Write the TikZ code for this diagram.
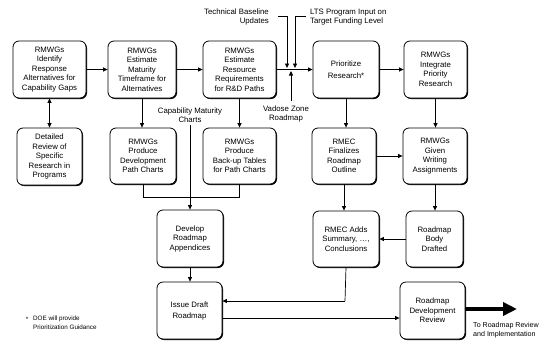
\documentclass[tikz,border=0pt]{standalone}
\usepackage{fontspec}
\setmainfont{Liberation Sans}
\usetikzlibrary{arrows.meta,shadows}
\begin{document}
\begin{tikzpicture}[x=1pt,y=-1pt,
  box/.style={draw,rounded corners=6pt,line width=0.8pt,fill=white,align=center,inner sep=0pt,
    font=\fontsize{7.8}{9.5}\selectfont,
    drop shadow={shadow xshift=1pt,shadow yshift=-1pt,fill=black,opacity=1}},
  lbl/.style={inner sep=0pt,font=\fontsize{7.8}{9.5}\selectfont},
  arr/.style={-{Triangle[length=4.5pt,width=4pt]},line width=0.7pt},
  ln/.style={line width=0.7pt},
  bigarr/.style={line width=4.5pt,-{Triangle[length=14pt,width=13pt]}}]
\useasboundingbox (0,0) rectangle (541,341);
% row 1
\node[box,minimum width=73pt,minimum height=57pt] (b1) at (49.5,69.5) {RMWGs\\Identify\\Response\\Alternatives for\\Capability Gaps};
\node[box,minimum width=68pt,minimum height=57pt] (b2) at (142,69.5) {RMWGs\\Estimate\\Maturity\\Timeframe for\\Alternatives};
\node[box,minimum width=73pt,minimum height=57pt] (b3) at (239.5,69.5) {RMWGs\\Estimate\\Resource\\Requirements\\for R\&D Paths};
\node[box,minimum width=66pt,minimum height=57pt] (b4) at (346,69.5) {Prioritize\\[2.5pt]Research*};
\node[box,minimum width=63pt,minimum height=57pt] (b5) at (435.5,69.5) {RMWGs\\Integrate\\Priority\\Research};
% row 2
\node[box,minimum width=65pt,minimum height=57pt] (b6) at (49.5,156.5) {Detailed\\Review of\\Specific\\Research in\\Programs};
\node[box,minimum width=66pt,minimum height=56pt] (b7) at (143,156) {RMWGs\\Produce\\Development\\Path Charts};
\node[box,minimum width=73pt,minimum height=56pt] (b8) at (239.5,156) {RMWGs\\Produce\\Back-up Tables\\for Path Charts};
\node[box,minimum width=64pt,minimum height=56pt] (b11) at (344,156) {RMEC\\Finalizes\\Roadmap\\Outline};
\node[box,minimum width=64pt,minimum height=56pt] (b13) at (435,156) {RMWGs\\Given\\Writing\\Assignments};
% row 3
\node[box,minimum width=66pt,minimum height=57pt] (b9) at (190,238.5) {Develop\\Roadmap\\Appendices};
\node[box,minimum width=66pt,minimum height=56pt] (b12) at (346,239) {RMEC Adds\\Summary, \ldots,\\Conclusions};
\node[box,minimum width=57pt,minimum height=56pt] (b14) at (434.5,239) {Roadmap\\Body\\Drafted};
% row 4
\node[box,minimum width=65pt,minimum height=57pt] (b10) at (189.5,310.5) {Issue Draft\\[1.5pt]Roadmap};
\node[box,minimum width=65pt,minimum height=57pt] (b15) at (432.5,310.5) {Roadmap\\Development\\Review};
% labels
\node[lbl,anchor=east,align=right] (tb) at (269,17) {Technical Baseline\\Updates};
\node[lbl,anchor=west,align=left] (lts) at (310,17) {LTS Program Input on\\Target Funding Level};
\node[lbl,align=center] (vz) at (286,114) {Vadose Zone\\Roadmap};
\node[lbl,align=center] (cm) at (190,115) {Capability Maturity\\Charts};
\node[inner sep=0pt,font=\fontsize{6.3}{8}\selectfont] (star) at (27,319) {*};
\node[inner sep=0pt,anchor=west,align=left,font=\fontsize{6.3}{8.5}\selectfont] (fn) at (33,322.5) {DOE will provide\\Prioritization Guidance};
\node[inner sep=0pt,anchor=west,align=left,font=\fontsize{7.1}{9}\selectfont] (tr) at (473,330.5) {To Roadmap Review\\and Implementation};
% coordinates
\coordinate (tbs) at (278,16);
\coordinate (tbc) at (287,16);
\coordinate (tbe) at (287,68);
\coordinate (lts1) at (306,16);
\coordinate (lts2) at (295,16);
\coordinate (lts3) at (295,68);
\coordinate (vz1) at (291,101);
\coordinate (vz2) at (291,71);
\coordinate (cm1) at (190,125);
\coordinate (mj) at (190,197);
\coordinate (rj) at (345,301);
\coordinate (tip) at (517,309);
% connectors
\draw[arr] (b1) -- (b2);
\draw[arr] (b2) -- (b3);
\draw[arr] (b3) -- (b4);
\draw[arr] (b4) -- (b5);
\draw[ln,{Triangle[length=4.5pt,width=4pt]}-{Triangle[length=4.5pt,width=4pt]}] (b1) -- (b6);
\draw[arr] (b2.south) -- (b2.south|-b7.north);
\draw[arr] (b3.south) -- (b3.south|-b8.north);
\draw[arr] (b4.south) -- (b4.south|-b11.north);
\draw[arr] (b5.south) -- (b5.south|-b13.north);
\draw[arr] (b11) -- (b11-|b13.west);
\draw[arr] (b11.south) -- (b11.south|-b12.north);
\draw[arr] (b13.south) -- (b13.south|-b14.north);
\draw[arr] (b14) -- (b14-|b12.east);
\draw[ln] (tbs) -- (tbc);
\draw[arr] (tbc) -- (tbe);
\draw[ln] (lts1) -- (lts2);
\draw[arr] (lts2) -- (lts3);
\draw[arr] (vz1) -- (vz2);
\draw[arr] (cm1) -- (cm1|-b9.north);
\draw[ln] (b7.south) |- (mj);
\draw[ln] (b8.south) |- (mj);
\draw[arr] (b9.south) -- (b9.south|-b10.north);
\draw[ln] (b12.south) -- (rj);
\draw[arr] (rj) -- (rj-|b10.east);
\draw[arr] (b10.east|-0,318) -- (b15.west|-0,318);
\draw[bigarr] (b15.east|-tip) -- (tip);
\end{tikzpicture}
\end{document}
